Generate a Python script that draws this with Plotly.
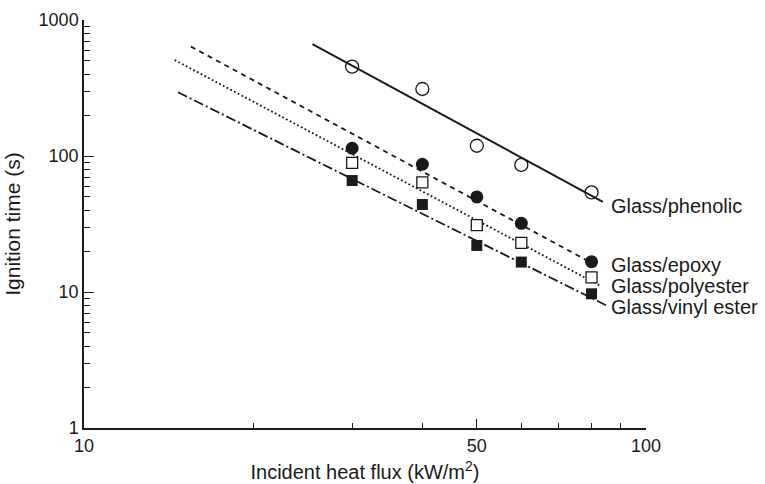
import plotly.graph_objects as go
import math

# Incident heat flux (kW/m^2) at which each laminate was tested
heat_flux = [30, 40, 50, 60, 80]

# Measured time-to-ignition (s)
phenolic = [454, 311, 119, 86, 54]
epoxy = [114, 87, 50, 32, 16.7]
polyester = [89, 64, 31, 23, 12.8]
vinyl_ester = [66, 44, 22, 16.6, 9.7]

# End points of the fitted power-law lines (flux, time)
phenolic_fit_x = [25.5, 83.8]
phenolic_fit_y = [666, 46]
epoxy_fit_x = [15.5, 82.0]
epoxy_fit_y = [637, 15.5]
polyester_fit_x = [14.5, 83.0]
polyester_fit_y = [508, 11.1]
vinyl_fit_x = [14.7, 85.4]
vinyl_fit_y = [294, 7.9]

series_names = ["Glass/phenolic", "Glass/epoxy", "Glass/polyester", "Glass/vinyl ester"]
# label anchor (flux, time) to the right of each fitted line
label_x = [85.8, 85.8, 85.8, 85.8]
label_y = [43.1, 15.8, 11.0, 7.8]

# axis ticks
x_major = [10, 50, 100]
x_minor = [20, 30, 40, 60, 70, 80, 90]
y_major = [1, 10, 100, 1000]
y_minor = [m * d for d in (1, 10, 100) for m in range(2, 10)]

INK = "#1a1a1a"
FONT = "Liberation Sans"
TICK_SIZE = 18
TEXT_SIZE = 20

fig = go.Figure()

fits = [
    (phenolic_fit_x, phenolic_fit_y, "solid", 2.0),
    (epoxy_fit_x, epoxy_fit_y, "5px,4.5px", 1.8),
    (polyester_fit_x, polyester_fit_y, "1.8px,2.4px", 1.8),
    (vinyl_fit_x, vinyl_fit_y, "10px,3px,2px,3px", 1.8),
]
for fx, fy, dash, w in fits:
    fig.add_trace(go.Scatter(x=fx, y=fy, mode="lines",
                             line=dict(color=INK, width=w, dash=dash),
                             showlegend=False, hoverinfo="skip"))

markers = [
    (phenolic, dict(symbol="circle-open", size=13, color=INK, line=dict(width=1.3, color=INK))),
    (epoxy, dict(symbol="circle", size=13, color=INK, line=dict(width=0))),
    (polyester, dict(symbol="square", size=11, color="white", line=dict(width=1.3, color=INK))),
    (vinyl_ester, dict(symbol="square", size=11, color=INK, line=dict(width=0))),
]
for (vals, mk), name in zip(markers, series_names):
    fig.add_trace(go.Scatter(x=heat_flux, y=vals, mode="markers", marker=mk,
                             name=name, showlegend=False))

for name, lx, ly in zip(series_names, label_x, label_y):
    fig.add_annotation(x=math.log10(lx), y=math.log10(ly), text=name,
                       showarrow=False, xanchor="left", yanchor="middle",
                       font=dict(family=FONT, size=TEXT_SIZE, color=INK))

axis_common = dict(
    type="log", showgrid=False, zeroline=False, showline=True,
    linecolor=INK, linewidth=1.5, ticks="inside", tickcolor=INK,
    tickwidth=1.3, tickfont=dict(family=FONT, size=TICK_SIZE, color=INK),
    mirror=False, automargin=False,
)

fig.update_xaxes(
    **axis_common, range=[1, 2], tickvals=x_major,
    ticktext=[str(v) for v in x_major], ticklen=9, ticklabelstandoff=1,
    minor=dict(tickvals=x_minor, ticks="inside", ticklen=5, tickcolor=INK, tickwidth=1.2),
    title=dict(text="Incident heat flux (kW/m<sup>2</sup>)",
               font=dict(family=FONT, size=TEXT_SIZE, color=INK), standoff=10),
)
fig.update_yaxes(
    **axis_common, range=[0, 3], tickvals=y_major,
    ticktext=[str(v) for v in y_major], ticklen=10,
    minor=dict(tickvals=y_minor, ticks="inside", ticklen=6, tickcolor=INK, tickwidth=1.2),
    title=dict(text="Ignition time (s)",
               font=dict(family=FONT, size=TEXT_SIZE + 1, color=INK), standoff=12),
)

fig.update_layout(
    width=765, height=484,
    margin=dict(l=83.5, r=118.5, t=20, b=56),
    plot_bgcolor="white", paper_bgcolor="white",
    showlegend=False,
)

fig.write_html("out.html")
